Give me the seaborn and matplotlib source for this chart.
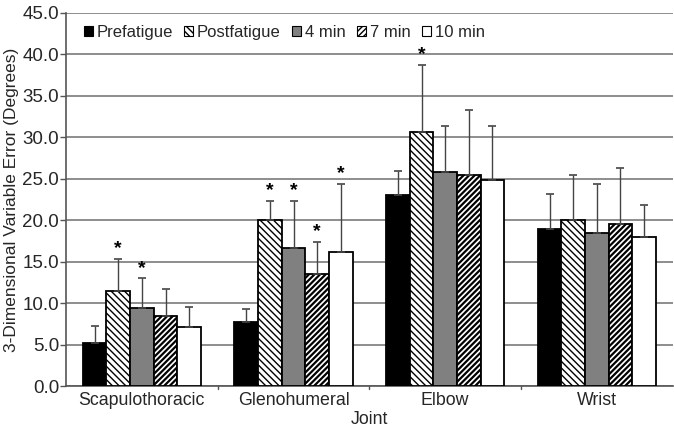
import numpy as np
import pandas as pd
import matplotlib
matplotlib.use("Agg")
import matplotlib.pyplot as plt
import seaborn as sns
from matplotlib.patches import Patch

# Data
joints = ["Scapulothoracic", "Glenohumeral", "Elbow", "Wrist"]
conditions = ["Prefatigue", "Postfatigue", "4 min", "7 min", "10 min"]
prefatigue = [5.2, 7.7, 23.0, 18.9]
postfatigue = [11.5, 20.0, 30.6, 20.0]
min4 = [9.4, 16.6, 25.8, 18.4]
min7 = [8.5, 13.5, 25.4, 19.6]
min10 = [7.1, 16.2, 24.9, 18.0]
# upper error-bar tips
top_pre = [7.2, 9.3, 25.9, 23.2]
top_post = [15.3, 22.3, 38.7, 25.5]
top_4 = [13.0, 22.3, 31.4, 24.4]
top_7 = [11.7, 17.4, 33.3, 26.3]
top_10 = [9.5, 24.4, 31.4, 21.8]
# significance markers (joint index, condition index)
stars = [(0, 1), (0, 2), (1, 1), (1, 2), (1, 3), (1, 4), (2, 1)]

means = [prefatigue, postfatigue, min4, min7, min10]
tops = [top_pre, top_post, top_4, top_7, top_10]

rows = []
for c, cond in enumerate(conditions):
    for j, joint in enumerate(joints):
        rows.append({"Joint": joint, "Condition": cond,
                     "value": means[c][j], "top": tops[c][j]})
df = pd.DataFrame(rows)

sns.set_style("white")
plt.rcParams["font.family"] = ["Liberation Sans", "DejaVu Sans"]
plt.rcParams["hatch.linewidth"] = 1.0

colors = ["#000000", "#ffffff", "#808080", "#ffffff", "#ffffff"]
hatches = ["", "\\\\\\\\\\", "", "//////", ""]
hatch_lw = [1.0, 1.0, 1.0, 1.6, 1.0]

fig = plt.figure(figsize=(6.74, 4.29), dpi=100)
ax = fig.add_axes([0.098, 0.1, 0.9, 0.87])

sns.barplot(data=df, x="Joint", y="value", hue="Condition", order=joints,
            hue_order=conditions, palette=colors, width=0.78, gap=0,
            edgecolor="black", linewidth=1.3, ax=ax, legend=False, zorder=3)

# patches come out grouped by hue, then by joint
bars = ax.patches[:len(conditions) * len(joints)]
for k, bar in enumerate(bars):
    c, j = divmod(k, len(joints))
    bar.set_hatch(hatches[c])
    try:
        bar.set_hatch_linewidth(hatch_lw[c])
    except AttributeError:
        pass
    x = bar.get_x() + bar.get_width() / 2
    h = bar.get_height()
    err = tops[c][j] - h
    ax.errorbar(x, h, yerr=[[0], [err]], fmt="none", ecolor="#444444",
                elinewidth=1.0, capsize=3, capthick=1.2, zorder=4)
    if (j, c) in stars:
        ax.text(x, tops[c][j] + 0.2, "*", ha="center", va="bottom",
                fontsize=14, fontweight="bold", color="black", zorder=5)

ax.set_ylim(0, 45)
ticks = np.arange(0, 45.1, 5)
ax.set_yticks(ticks)
ax.set_yticklabels([f"{v:.1f}" for v in ticks], fontsize=13.5)
ax.tick_params(axis="x", labelsize=12.8, length=0, pad=4)
ax.tick_params(axis="y", length=4, width=1, color="#555555", pad=1, left=True)
ax.yaxis.grid(True, color="#7a7a7a", linewidth=1.2, zorder=0)
ax.set_axisbelow(True)
ax.set_xlabel("Joint", fontsize=12.8, labelpad=2)
ax.set_ylabel("3-Dimensional Variable Error (Degrees)", fontsize=12.5)
ax.yaxis.set_label_coords(-0.078, 0.5)
for side in ["top", "right"]:
    ax.spines[side].set_visible(False)
for side in ["left", "bottom"]:
    ax.spines[side].set_color("#555555")
    ax.spines[side].set_linewidth(1.2)
ax.set_xlim(-0.5, 3.5)
for xt in [0.5, 1.5, 2.5]:
    ax.plot([xt, xt], [0, -0.4], color="#555555", linewidth=1, clip_on=False)

handles = [Patch(facecolor=colors[i], edgecolor="black", hatch=hatches[i],
                 linewidth=0.8, label=conditions[i]) for i in range(5)]
ax.legend(handles=handles, loc="upper left", bbox_to_anchor=(0.01, 1.0),
          ncol=5, frameon=False, fontsize=12, handlelength=0.55,
          handleheight=0.55, handletextpad=0.2, columnspacing=0.7,
          borderaxespad=0.3)

fig.savefig("out.png", dpi=100)
